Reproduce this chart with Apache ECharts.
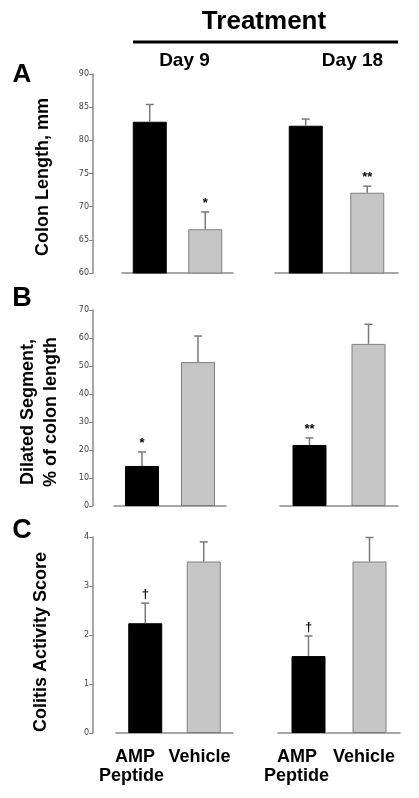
<!DOCTYPE html>
<html>
<head>
<meta charset="utf-8">
<script src="https://cdn.jsdelivr.net/npm/echarts@6/dist/echarts.min.js"></script>
<style>
html,body{margin:0;padding:0;background:#fff;}
#chart{width:419px;height:798px;}
</style>
</head>
<body>
<div id="chart"></div>
<script>
// ---- data ----
const categories = ['AMP Peptide', 'Vehicle'];
const groupLabels = ['Day 9', 'Day 18'];

// Panel A: Colon length, mm
const colonDay9 = [82.8, 66.6];
const colonDay9Err = [2.6, 2.6];
const colonDay18 = [82.2, 72.1];
const colonDay18Err = [1.0, 1.0];
const colonMarksDay9 = ['', '*'];
const colonMarksDay18 = ['', '**'];
const colonTicks = { min: 60, max: 90, interval: 5 };

// Panel B: Dilated segment, % of colon length
const dilatedDay9 = [14.3, 51.4];
const dilatedDay9Err = [5.0, 9.3];
const dilatedDay18 = [21.8, 57.9];
const dilatedDay18Err = [2.5, 7.0];
const dilatedMarksDay9 = ['*', ''];
const dilatedMarksDay18 = ['**', ''];
const dilatedTicks = { min: 0, max: 70, interval: 10 };

// Panel C: Colitis activity score
const colitisDay9 = [2.24, 3.5];
const colitisDay9Err = [0.41, 0.40];
const colitisDay18 = [1.57, 3.5];
const colitisDay18Err = [0.41, 0.49];
const colitisMarksDay9 = ['\u2020', ''];
const colitisMarksDay18 = ['\u2020', ''];
const colitisTicks = { min: 0, max: 4, interval: 1 };

// ---- styles ----
const FONT = 'Liberation Sans, Arial, sans-serif';
const BAR_COLORS = ['#000000', '#c6c6c6'];
const AXIS_COLOR = '#8a8a8a';
const ERR_COLOR = '#7a7a7a';

const panels = [
  { name: 'Colon Length, mm', nameGap: 38, namePad: [0, 7, 0, 0], ticks: colonTicks, top: 74, bottom: 273, yOffset: 29,
    groups: [
      { vals: colonDay9, errs: colonDay9Err, marks: colonMarksDay9, left: 122, right: 233 },
      { vals: colonDay18, errs: colonDay18Err, marks: colonMarksDay18, left: 275, right: 398 }
    ] },
  { name: 'Dilated Segment,\n% of colon length', nameGap: 30, namePad: [0, 8, 0, 0], ticks: dilatedTicks, top: 310, bottom: 506, yOffset: 21,
    groups: [
      { vals: dilatedDay9, errs: dilatedDay9Err, marks: dilatedMarksDay9, left: 114, right: 226 },
      { vals: dilatedDay18, errs: dilatedDay18Err, marks: dilatedMarksDay18, left: 280, right: 398 }
    ] },
  { name: 'Colitis Activity Score', nameGap: 40, namePad: [0, 14, 0, 0], ticks: colitisTicks, top: 537, bottom: 733, yOffset: 23,
    groups: [
      { vals: colitisDay9, errs: colitisDay9Err, marks: colitisMarksDay9, left: 116, right: 233 },
      { vals: colitisDay18, errs: colitisDay18Err, marks: colitisMarksDay18, left: 278, right: 400 }
    ] }
];

const grid = [], xAxis = [], yAxis = [], series = [];

function makeErrRender(marks) {
  return function (params, api) {
    const x = api.value(0), v = api.value(1), e = api.value(2);
    const p0 = api.coord([x, v]);
    const p1 = api.coord([x, v + e]);
    const cap = 4;
    const children = [
      { type: 'line', shape: { x1: p0[0], y1: p0[1], x2: p1[0], y2: p1[1] }, style: { stroke: ERR_COLOR, lineWidth: 1.5 } },
      { type: 'line', shape: { x1: p1[0] - cap, y1: p1[1], x2: p1[0] + cap, y2: p1[1] }, style: { stroke: ERR_COLOR, lineWidth: 1.5 } }
    ];
    const m = marks[params.dataIndex];
    if (m) {
      children.push({ type: 'text', style: { text: m, x: p1[0], y: p1[1] - 2, align: 'center', verticalAlign: 'bottom',
        font: 'bold 13px ' + FONT, fill: '#000' } });
    }
    return { type: 'group', children: children };
  };
}

let gi = 0;
panels.forEach(function (p) {
  p.groups.forEach(function (g, k) {
    grid.push({ left: g.left, width: g.right - g.left, top: p.top, height: p.bottom - p.top });
    xAxis.push({
      gridIndex: gi, type: 'category', data: categories, boundaryGap: true,
      axisLine: { show: true, lineStyle: { color: AXIS_COLOR, width: 1.5 } },
      axisTick: { show: false }, axisLabel: { show: false }, splitLine: { show: false }
    });
    const ya = {
      gridIndex: gi, type: 'value', min: p.ticks.min, max: p.ticks.max, interval: p.ticks.interval,
      splitLine: { show: false }
    };
    if (k === 0) {
      Object.assign(ya, {
        offset: p.yOffset,
        axisLine: { show: true, lineStyle: { color: AXIS_COLOR, width: 1.5 } },
        axisTick: { show: true, length: 4, lineStyle: { color: AXIS_COLOR, width: 1 } },
        axisLabel: { fontSize: 8, color: '#444', fontFamily: 'DejaVu Sans', margin: 4 },
        name: p.name, nameLocation: 'middle', nameRotate: 90, nameGap: p.nameGap,
        nameTextStyle: { fontFamily: FONT, fontWeight: 'bold', fontSize: 18, color: '#000', lineHeight: 23, padding: p.namePad }
      });
    } else {
      ya.show = false;
    }
    yAxis.push(ya);
    series.push({
      type: 'bar', xAxisIndex: gi, yAxisIndex: gi, barWidth: 34, silent: true,
      data: g.vals.map(function (v, i) {
        return { value: v, itemStyle: { color: BAR_COLORS[i], borderColor: i === 1 ? '#7f7f7f' : '#000', borderWidth: 1 } };
      })
    });
    series.push({
      type: 'custom', xAxisIndex: gi, yAxisIndex: gi, silent: true, z: 5,
      renderItem: makeErrRender(g.marks),
      encode: { x: 0, y: [1, 2] },
      data: g.vals.map(function (v, i) { return [i, v, g.errs[i]]; })
    });
    gi++;
  });
});

const txt = function (text, x, y, size) {
  return { type: 'text', x: x, y: y, style: { text: text, font: 'bold ' + size + 'px ' + FONT, fill: '#000', align: 'center', verticalAlign: 'middle' } };
};

const graphic = [
  txt('Treatment', 264, 22, 26),
  { type: 'line', shape: { x1: 133, y1: 42, x2: 398, y2: 42 }, style: { stroke: '#000', lineWidth: 3 } },
  txt(groupLabels[0], 184.5, 61, 19),
  txt(groupLabels[1], 352.5, 61, 19),
  txt('A', 22, 74.5, 26),
  txt('B', 22, 299, 27),
  txt('C', 22, 531, 27),
  txt('AMP', 135, 757, 18),
  txt('Peptide', 131.5, 776, 18),
  txt(categories[1], 199.5, 757, 18),
  txt('AMP', 297, 757, 18),
  txt('Peptide', 296.5, 776, 18),
  txt(categories[1], 364, 757, 18)
];

const chart = echarts.init(document.getElementById('chart'), null, { renderer: 'canvas' });
chart.setOption({
  animation: false,
  backgroundColor: '#fff',
  grid: grid, xAxis: xAxis, yAxis: yAxis, series: series, graphic: graphic
});
</script>
</body>
</html>
